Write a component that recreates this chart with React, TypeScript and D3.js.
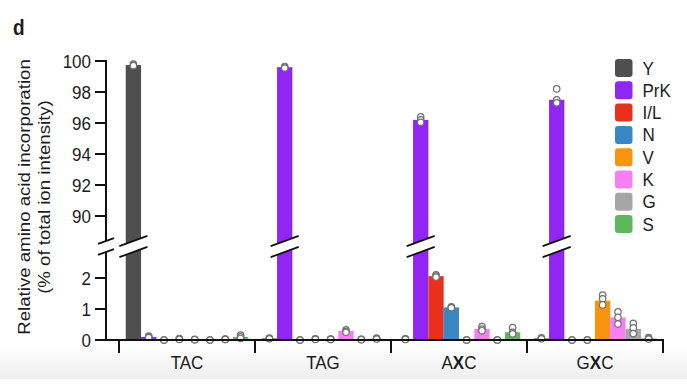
import { useMemo } from "react";
import type { ReactNode } from "react";
import * as d3 from "d3";

const W = 687;
const H = 391;

const aminoAcids = ["Y", "PrK", "I/L", "N", "V", "K", "G", "S"];
const colors = ["#4f4f4f", "#9126f4", "#e8311d", "#3b87c3", "#f8930f", "#f77ff1", "#a6a6a6", "#5cb85b"];
const groups = ["TAC", "TAG", "AXC", "GXC"];

// bar heights (mean), order follows aminoAcids
const tacMeans = [99.74, 0.1, 0, 0.03, 0.01, 0, 0.02, 0.1];
const tagMeans = [0.05, 99.6, 0, 0.03, 0.02, 0.29, 0.02, 0.04];
const axcMeans = [0.03, 96.2, 2.06, 1.05, 0, 0.36, 0, 0.25];
const gxcMeans = [0.05, 97.5, 0, 0, 1.27, 0.73, 0.36, 0.05];

// replicate points
const tacReps = [[99.8, 99.74, 99.7], [0.13, 0.1, 0.08], [0, 0, 0], [0.05, 0.03, 0.02], [0.02, 0.01, 0.01], [0, 0, 0], [0.03, 0.02, 0.02], [0.16, 0.1, 0.05]];
const tagReps = [[0.06, 0.05, 0.04], [99.65, 99.6, 99.55], [0, 0, 0], [0.04, 0.03, 0.02], [0.03, 0.02, 0.02], [0.33, 0.28, 0.25], [0.02, 0.02, 0.01], [0.06, 0.04, 0.03]];
const axcReps = [[0.04, 0.03, 0.02], [96.4, 96.2, 96.05], [2.1, 2.06, 2.03], [1.07, 1.05, 1.04], [0, 0, 0], [0.43, 0.35, 0.3], [0, 0, 0], [0.4, 0.25, 0.2]];
const gxcReps = [[0.07, 0.05, 0.04], [98.2, 97.5, 97.3], [0, 0, 0], [0, 0, 0], [1.45, 1.33, 1.13], [0.91, 0.73, 0.52], [0.54, 0.39, 0.21], [0.08, 0.05, 0.03]];

const upperTicks = [90, 92, 94, 96, 98, 100];
const lowerTicks = [0, 1, 2];

const FONT = "'Liberation Sans', Arial, Helvetica, sans-serif";
const FS = 17;
const SY = 1.13; // the source text is a bit taller than wide

const AXIS_X = 106;
const BASE_Y = 340;
const BREAK1 = 241; // lower edge of upper segment
const BREAK2 = 252; // upper edge of lower segment
const SLOPE = -0.37;

// text placed at (x, y) and stretched vertically
function T({ x, y, anchor = "start", size = FS, weight, children }: {
  x: number; y: number; anchor?: string; size?: number; weight?: string; children: ReactNode;
}) {
  return (
    <g transform={`translate(${x},${y}) scale(1,${SY})`}>
      <text textAnchor={anchor} fontSize={size} fontWeight={weight} fill="#1c1c1c">
        {children}
      </text>
    </g>
  );
}

export default function App() {
  const means = [tacMeans, tagMeans, axcMeans, gxcMeans];
  const reps = [tacReps, tagReps, axcReps, gxcReps];

  const { xGroup, xBar, yUp, yLow } = useMemo(() => {
    const xGroup = d3.scaleBand().domain(groups).range([119, 663]).padding(0);
    const xBar = d3
      .scaleBand()
      .domain(aminoAcids)
      .range([0, xGroup.bandwidth()])
      .paddingInner(0)
      .paddingOuter(0.44);
    const yUp = d3.scaleLinear().domain([90, 100]).range([216, 61]);
    const yLow = d3.scaleLinear().domain([0, 2]).range([BASE_Y, 278]);
    return { xGroup, xBar, yUp, yLow };
  }, []);

  const bw = xBar.bandwidth();

  // slashes drawn across a break, centred at cx
  const slashes = (cx: number, half: number, key: string) => {
    const pts = (yc: number) => [cx - half, yc - SLOPE * half, cx + half, yc + SLOPE * half];
    const a = pts(BREAK1);
    const b = pts(BREAK2);
    return (
      <g key={key}>
        <polygon
          points={`${a[0]},${a[1]} ${a[2]},${a[3]} ${b[2]},${b[3]} ${b[0]},${b[1]}`}
          fill="#fff"
        />
        <line x1={a[0]} y1={a[1]} x2={a[2]} y2={a[3]} stroke="#111" strokeWidth={1.8} />
        <line x1={b[0]} y1={b[1]} x2={b[2]} y2={b[3]} stroke="#111" strokeWidth={1.8} />
      </g>
    );
  };

  return (
    <svg
      width={W}
      height={H}
      style={{ position: "absolute", left: 0, top: 0, background: "#fff" }}
      fontFamily={FONT}
    >
      <defs>
        <linearGradient id="bottomFade" x1="0" y1="0" x2="0" y2="1">
          <stop offset="0" stopColor="#fff" />
          <stop offset="1" stopColor="#eeeeee" />
        </linearGradient>
      </defs>
      <rect x={0} y={345} width={W} height={34} fill="url(#bottomFade)" />

      <T x={13} y={35} size={19} weight="bold">d</T>

      {/* y label */}
      <g transform={`translate(30,197) scale(1,${SY}) rotate(-90)`}>
        <text textAnchor="middle" fontSize={16.5} fill="#1c1c1c">
          Relative amino acid incorporation
        </text>
        <text y={20} textAnchor="middle" fontSize={16.5} fill="#1c1c1c">
          (% of total ion intensity)
        </text>
      </g>

      {/* bars */}
      {groups.map((g, gi) =>
        aminoAcids.map((aa, i) => {
          const v = means[gi][i];
          const x = (xGroup(g) ?? 0) + (xBar(aa) ?? 0);
          const top = v >= 90 ? yUp(v) : yLow(v);
          return (
            <rect
              key={`${g}-${aa}`}
              x={x}
              y={top}
              width={bw}
              height={BASE_Y - top}
              fill={colors[i]}
            />
          );
        }),
      )}

      {/* breaks on tall bars */}
      {groups.map((g, gi) =>
        aminoAcids.map((aa, i) =>
          means[gi][i] >= 90
            ? slashes((xGroup(g) ?? 0) + (xBar(aa) ?? 0) + bw / 2, 14, `b-${g}-${aa}`)
            : null,
        ),
      )}

      {/* replicate dots */}
      {groups.map((g, gi) =>
        aminoAcids.map((aa, i) =>
          reps[gi][i].map((v, k) => (
            <circle
              key={`${g}-${aa}-${k}`}
              cx={(xGroup(g) ?? 0) + (xBar(aa) ?? 0) + bw / 2}
              cy={v >= 90 ? yUp(v) : yLow(v)}
              r={3.2}
              fill="#fff"
              stroke="#6f6f6f"
              strokeWidth={1.2}
            />
          )),
        ),
      )}

      {/* y axis */}
      <line x1={AXIS_X} x2={AXIS_X} y1={60} y2={BREAK1} stroke="#111" strokeWidth={2} />
      <line x1={AXIS_X} x2={AXIS_X} y1={BREAK2} y2={BASE_Y + 1} stroke="#111" strokeWidth={2} />
      {slashes(AXIS_X, 8, "axis-break")}
      {upperTicks.map((t) => (
        <g key={`u${t}`}>
          <line x1={AXIS_X - 11} x2={AXIS_X} y1={yUp(t)} y2={yUp(t)} stroke="#111" strokeWidth={2} />
          <T x={AXIS_X - 15} y={yUp(t) + 6.8} anchor="end">{t}</T>
        </g>
      ))}
      {lowerTicks.map((t) => (
        <g key={`l${t}`}>
          <line x1={AXIS_X - 11} x2={AXIS_X} y1={yLow(t)} y2={yLow(t)} stroke="#111" strokeWidth={2} />
          <T x={AXIS_X - 15} y={yLow(t) + 6.8} anchor="end">{t}</T>
        </g>
      ))}

      {/* x axis */}
      <line x1={AXIS_X - 1} x2={664} y1={BASE_Y} y2={BASE_Y} stroke="#111" strokeWidth={2} />
      {[...groups.map((g) => xGroup(g) ?? 0), 663].map((x, i) => (
        <line key={`xt${i}`} x1={x} x2={x} y1={BASE_Y} y2={BASE_Y + 13} stroke="#111" strokeWidth={2} />
      ))}
      {groups.map((g) => {
        const cx = (xGroup(g) ?? 0) + xGroup.bandwidth() / 2;
        const hasX = g.includes("X");
        return (
          <T key={`gl${g}`} x={cx} y={369} anchor="middle">
            {hasX ? (
              <>
                {g[0]}
                <tspan fontWeight="bold">X</tspan>
                {g[2]}
              </>
            ) : (
              g
            )}
          </T>
        );
      })}

      {/* legend */}
      {aminoAcids.map((aa, i) => (
        <g key={`lg${aa}`} transform={`translate(615,${59 + i * 22.3})`}>
          <rect width={17.5} height={18} rx={3} fill={colors[i]} />
          <T x={27.5} y={15.5}>{aa}</T>
        </g>
      ))}
    </svg>
  );
}
